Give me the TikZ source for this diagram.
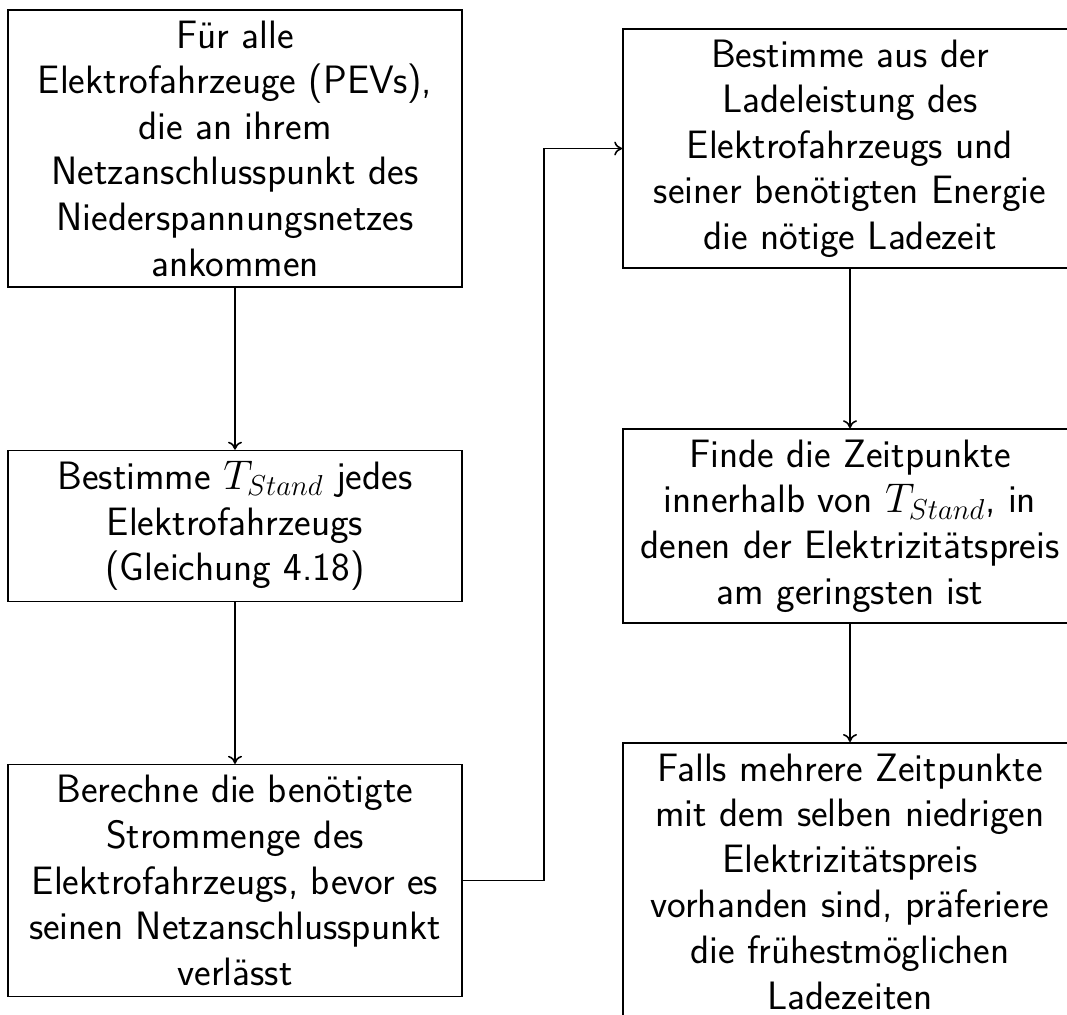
\documentclass[tikz,border=0pt]{standalone}
\usetikzlibrary{arrows.meta}
\begin{document}
\begin{tikzpicture}[x=0.5pt,y=-0.5pt,
  box/.style={draw, line width=0.8pt, align=center, minimum width=227pt,
    inner xsep=2pt, inner ysep=5.4pt,
    font=\fontsize{19.8}{22.8}\selectfont\sffamily},
  conn/.style={line width=0.8pt, -{To[length=4pt,width=7pt]}}]
\clip (0,0) rectangle (1067,1014);
\node[box] (b1) at (235,148.5) {Für alle\\Elektrofahrzeuge (PEVs),\\die an ihrem\\Netzanschlusspunkt des\\Niederspannungsnetzes\\ankommen};
\node[box] (b2) at (235,526) {Bestimme $T_{Stand}$ jedes\\Elektrofahrzeugs\\(Gleichung 4.18)};
\node[box] (b3) at (235,880.5) {Berechne die benötigte\\Strommenge des\\Elektrofahrzeugs, bevor es\\seinen Netzanschlusspunkt\\verlässt};
\node[box] (b4) at (850,148.5) {Bestimme aus der\\Ladeleistung des\\Elektrofahrzeugs und\\seiner benötigten Energie\\die nötige Ladezeit};
\node[box] (b5) at (850,526) {Finde die Zeitpunkte\\innerhalb von $T_{Stand}$, in\\denen der Elektrizitätspreis\\am geringsten ist};
\node[box, anchor=north] (b6) at (850,742) {Falls mehrere Zeitpunkte\\mit dem selben niedrigen\\Elektrizitätspreis\\vorhanden sind, präferiere\\die frühestmöglichen\\Ladezeiten};
\draw[conn] (b1.south) -- (b2.north);
\draw[conn] (b2.south) -- (b3.north);
\draw[conn] (b3.east) -- ++(81,0) |- (b4.west);
\draw[conn] (b4.south) -- (b5.north);
\draw[conn] (b5.south) -- (b6.north);
\end{tikzpicture}
\end{document}
